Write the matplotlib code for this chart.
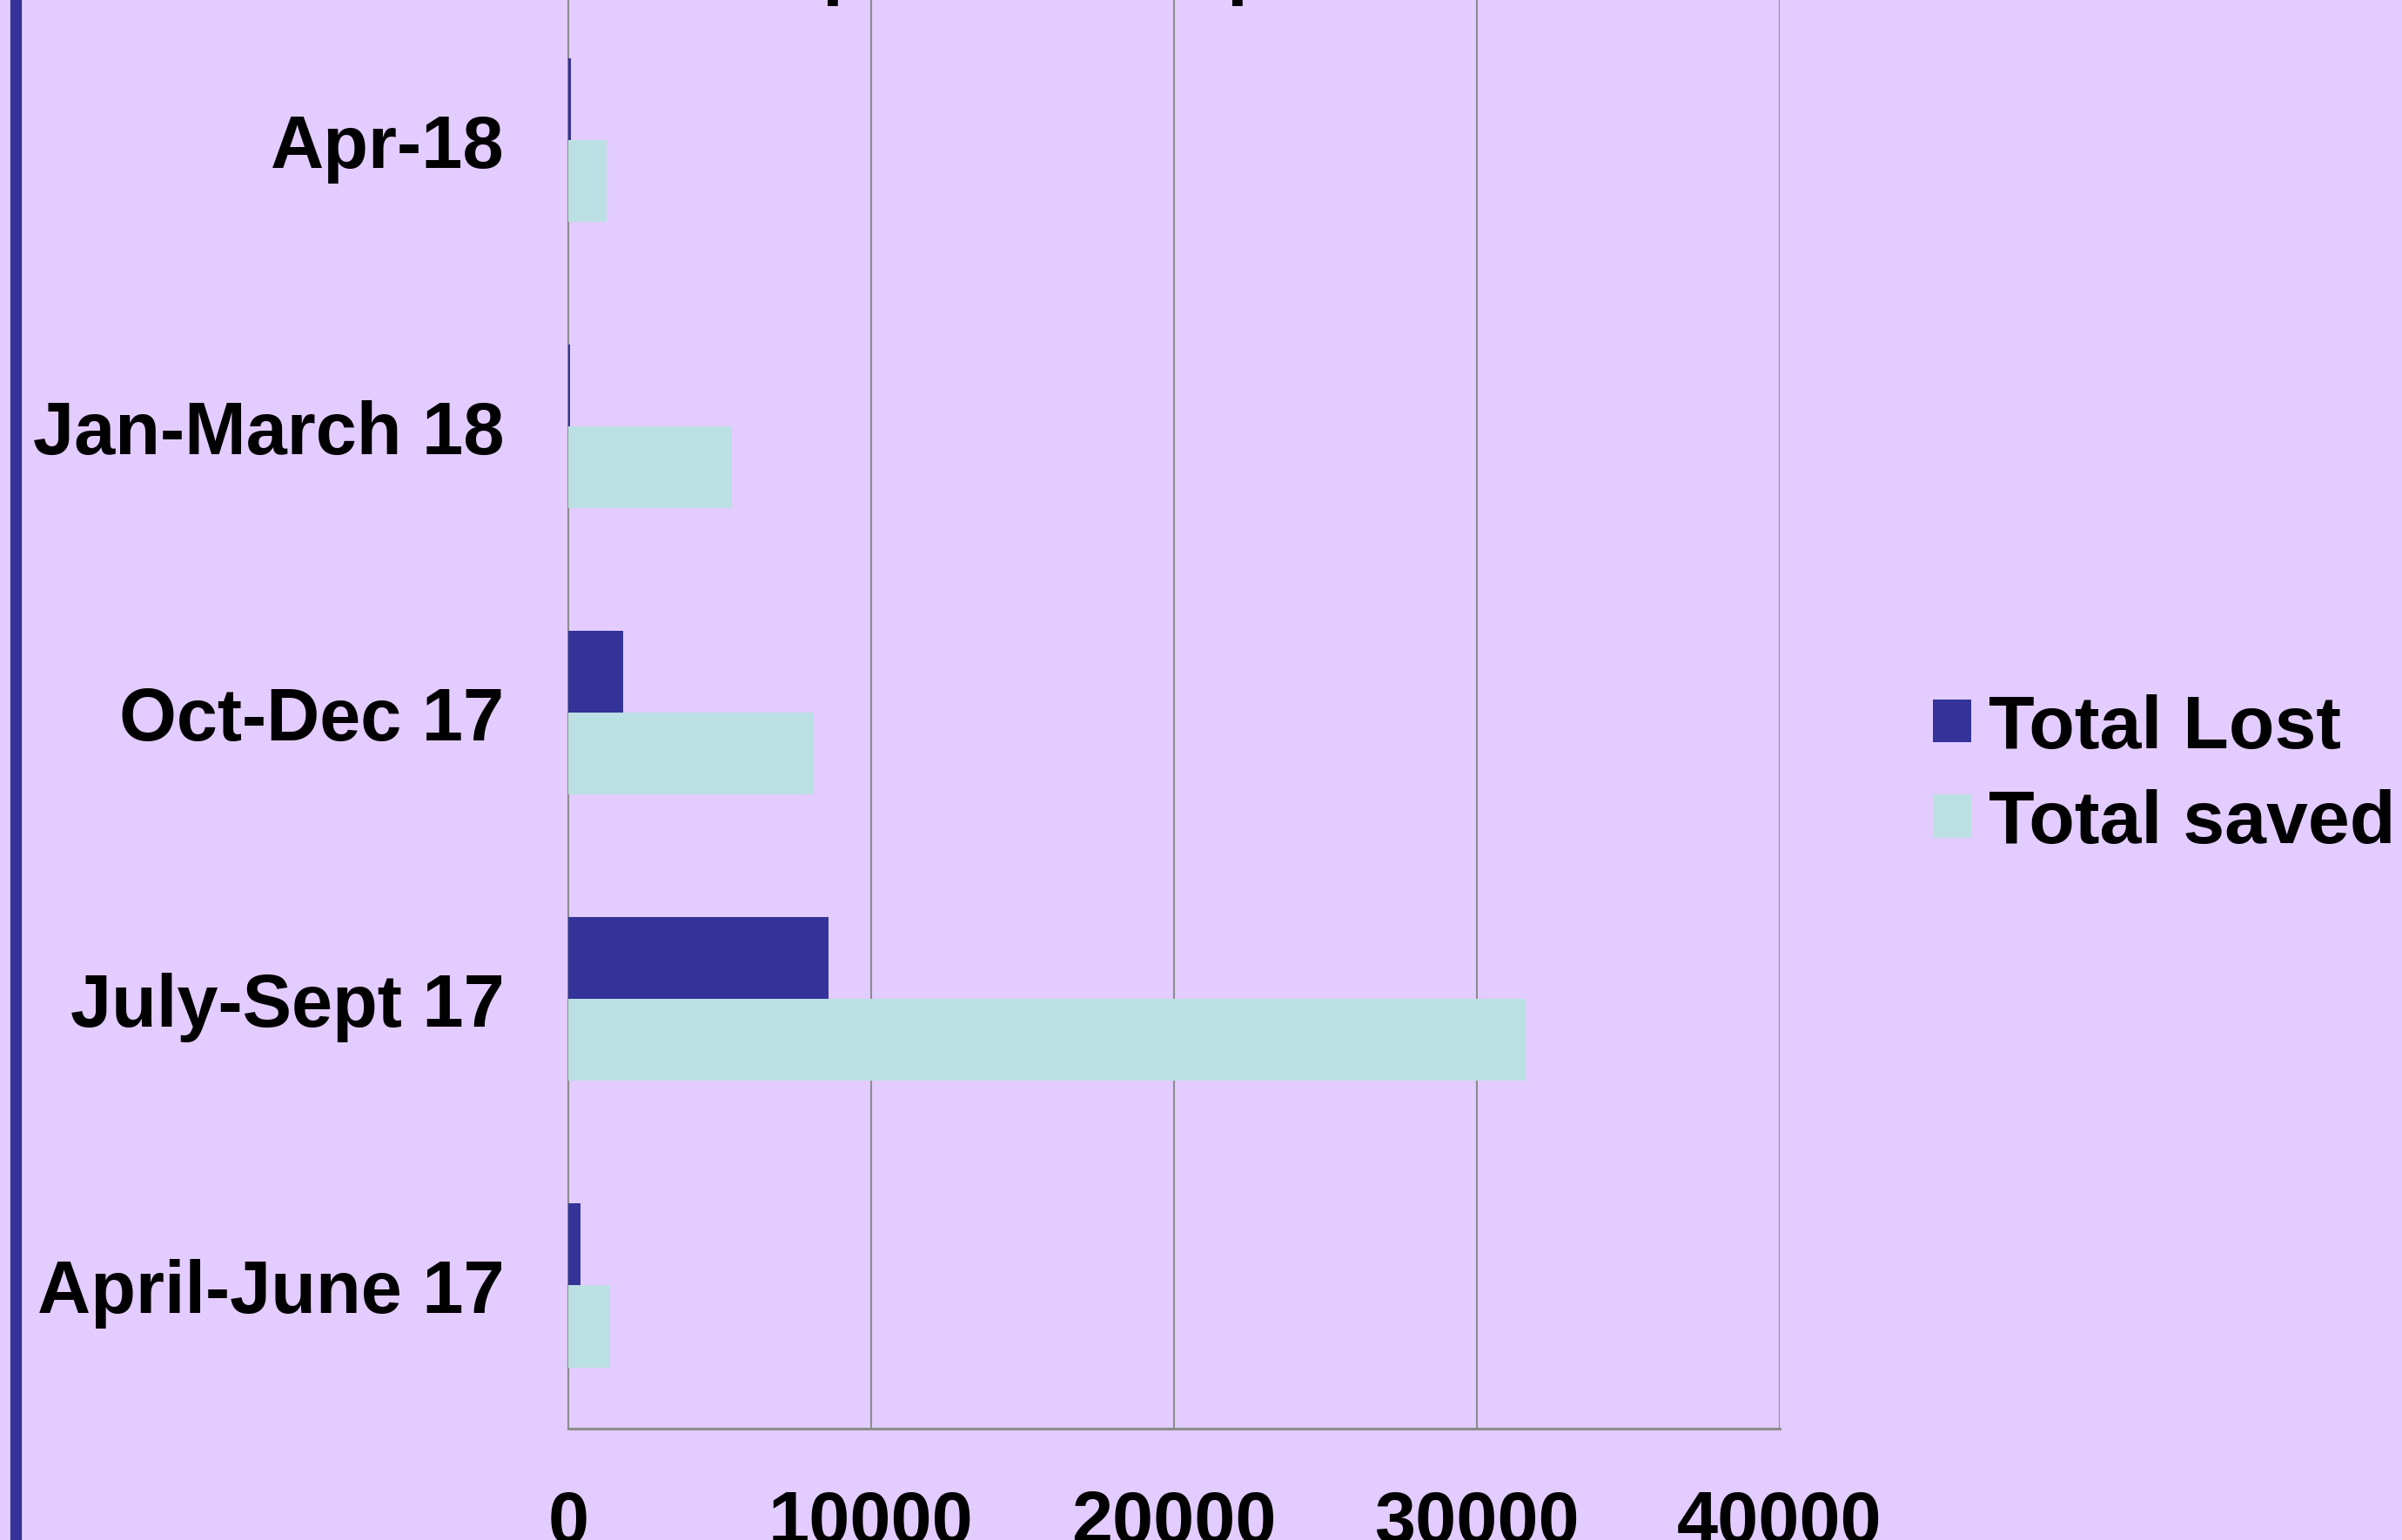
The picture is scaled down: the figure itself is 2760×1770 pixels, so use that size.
import numpy as np
import matplotlib
matplotlib.use("Agg")
import matplotlib.pyplot as plt

periods = ["April-June 17", "July-Sept 17", "Oct-Dec 17", "Jan-March 18", "Apr-18"]
total_lost = [400, 8590, 1810, 50, 100]
total_saved = [1380, 31600, 8090, 5410, 1260]
x_ticks = [0, 10000, 20000, 30000, 40000]

bg = "#E3CCFF"
lost_color = "#333399"
saved_color = "#BBE0E3"
grid_color = "#8C8C8C"

plt.rcParams["font.family"] = ["Liberation Sans", "DejaVu Sans"]
plt.rcParams["font.weight"] = "bold"

fig = plt.figure(figsize=(27.6, 17.705), dpi=100, facecolor=bg)
ax = fig.add_axes([653 / 2760, 128 / 1770, (2045 - 653) / 2760, 1645 / 1770])
ax.set_facecolor(bg)

y = np.arange(len(periods))
h = 0.286
ax.barh(y + h / 2, total_lost, height=h, color=lost_color, label="Total Lost", zorder=3)
ax.barh(y - h / 2, total_saved, height=h, color=saved_color, label="Total saved", zorder=3)

ax.set_xlim(0, 40000)
ax.set_ylim(-0.5, 4.5)
ax.set_xticks(x_ticks)
ax.set_xticklabels([str(t) for t in x_ticks])
ax.set_yticks(y)
ax.set_yticklabels(periods)
ax.tick_params(axis="both", length=0, labelsize=61)
ax.tick_params(axis="x", pad=50)
ax.tick_params(axis="y", pad=53)

ax.grid(axis="x", color=grid_color, linewidth=1.5, zorder=1)
for side in ["top", "right"]:
    ax.spines[side].set_visible(False)
ax.spines["left"].set_color(grid_color)
ax.spines["left"].set_linewidth(1.5)
ax.spines["bottom"].set_color(grid_color)
ax.spines["bottom"].set_linewidth(2.2)

fig.legend(loc="center left", bbox_to_anchor=(2221 / 2760, 1 - 892 / 1770),
           frameon=False, fontsize=62, borderpad=0, borderaxespad=0,
           handlelength=0.51, handleheight=0.51, handletextpad=0.23,
           labelspacing=0.34)

# left border stripe
fig.add_artist(plt.Line2D([17.5 / 2760, 17.5 / 2760], [0, 1], color=lost_color,
                          linewidth=9.5, transform=fig.transFigure))

# title above the visible area, only descenders show
fig.text(944 / 2760, 1 + 11 / 1770, "p", fontsize=62, va="baseline", ha="left")
fig.text(1409 / 2760, 1 + 11 / 1770, "p", fontsize=62, va="baseline", ha="left")

fig.savefig("out.png", dpi=100, facecolor=bg)
